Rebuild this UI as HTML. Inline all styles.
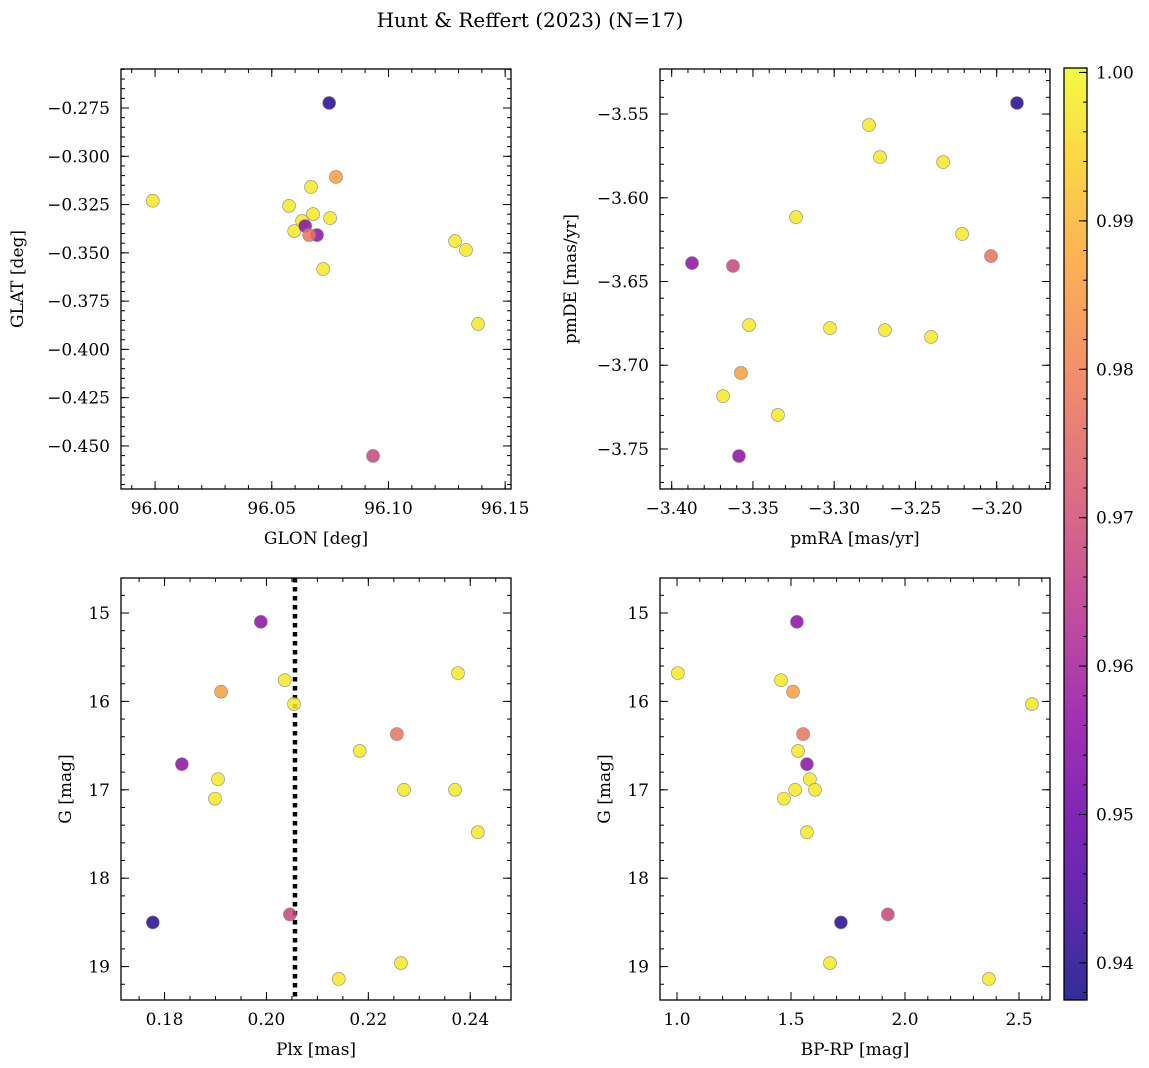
<!DOCTYPE html>
<html><head><meta charset="utf-8"><style>
html,body{margin:0;padding:0;background:#fff}
svg{display:block;font-family:"DejaVu Serif","Liberation Serif",serif}
</style></head><body>
<svg id="fig" width="1149" height="1068" viewBox="0 0 1149 1068" xmlns="http://www.w3.org/2000/svg">
<text x="530" y="27" font-size="20" text-anchor="middle">Hunt &amp; Reffert (2023) (N=17)</text>
</svg>
<script>
// Panel 1: GLON / GLAT
const glon = [95.999,96.0746,96.0775,96.0668,96.0574,96.0677,96.075,96.063,96.0596,96.0643,96.0694,96.066,96.072,96.1285,96.1332,96.1384,96.0934];
const glat = [-0.323,-0.2724,-0.3107,-0.3159,-0.3257,-0.3299,-0.332,-0.3335,-0.3387,-0.3361,-0.3408,-0.3408,-0.3584,-0.3439,-0.3485,-0.3868,-0.4552];
const prob1 = [0.998,0.940,0.986,0.998,0.998,0.998,0.998,0.998,0.998,0.956,0.956,0.978,0.998,0.998,0.998,0.998,0.968];
// Panel 2: pmRA / pmDE
const pmra = [-3.1875,-3.2786,-3.2718,-3.233,-3.3235,-3.2213,-3.2035,-3.3875,-3.3623,-3.3524,-3.3026,-3.2688,-3.2404,-3.3574,-3.3684,-3.3346,-3.3586];
const pmde = [-3.5434,-3.5566,-3.5757,-3.5787,-3.6116,-3.6216,-3.6348,-3.639,-3.6407,-3.676,-3.6778,-3.679,-3.6831,-3.7046,-3.7184,-3.7297,-3.7542];
const prob2 = [0.940,0.998,0.998,0.998,0.998,0.998,0.978,0.956,0.968,0.998,0.998,0.998,0.998,0.986,0.998,0.998,0.956];
// Panel 3: Plx / G
const plx = [0.1989,0.2376,0.1911,0.2036,0.2054,0.2256,0.2183,0.1834,0.1905,0.227,0.237,0.1899,0.2415,0.1777,0.2046,0.2264,0.2142];
const gmag3 = [15.10,15.68,15.89,15.76,16.03,16.37,16.56,16.71,16.88,17.00,17.00,17.10,17.48,18.50,18.41,18.96,19.14];
const prob3 = [0.956,0.998,0.986,0.998,0.998,0.978,0.998,0.956,0.998,0.998,0.998,0.998,0.998,0.940,0.968,0.998,0.998];
const plxLine = [0.2056];
// Panel 4: BP-RP / G
const bprp = [1.526,1.004,1.456,1.509,1.553,1.531,1.570,1.583,1.605,1.518,1.469,1.570,2.557,1.719,1.925,1.671,2.368];
const gmag4 = [15.10,15.68,15.76,15.89,16.37,16.56,16.71,16.88,17.00,17.00,17.10,17.48,16.03,18.50,18.41,18.96,19.14];
const prob4 = [0.956,0.998,0.998,0.986,0.978,0.998,0.956,0.998,0.998,0.998,0.998,0.998,0.998,0.940,0.968,0.998,0.998];
// Tick labels
const ticks1x = [96.00,96.05,96.10,96.15];
const ticks1y = [-0.275,-0.300,-0.325,-0.350,-0.375,-0.400,-0.425,-0.450];
const ticks2x = [-3.40,-3.35,-3.30,-3.25,-3.20];
const ticks2y = [-3.55,-3.60,-3.65,-3.70,-3.75];
const ticks3x = [0.18,0.20,0.22,0.24];
const ticksG = [15,16,17,18,19];
const ticks4x = [1.0,1.5,2.0,2.5];
const cbTicks = [0.94,0.95,0.96,0.97,0.98,0.99,1.00];
const cbMin = 0.9375, cbMax = 1.0003;

const NS = "http://www.w3.org/2000/svg";
const svg = document.getElementById('fig');
function mk(tag, attrs, parent){
  const e = document.createElementNS(NS, tag);
  for (const k in attrs) e.setAttribute(k, attrs[k]);
  (parent||svg).appendChild(e);
  return e;
}
const stops = [[13,8,135],[65,4,157],[106,0,168],[143,13,164],[177,42,144],[204,71,120],[225,100,98],[242,132,75],[252,166,54],[252,206,37],[240,249,33]];
function plasma(t){
  t = Math.max(0, Math.min(1, t));
  const f = t*10, i = Math.min(9, Math.floor(f)), r = f - i;
  const a = stops[i], b = stops[i+1];
  return 'rgb(' + [0,1,2].map(k => Math.round(a[k] + (b[k]-a[k])*r)).join(',') + ')';
}
function fmt(v, d){ const s = Math.abs(v).toFixed(d); return (v < -1e-12 ? '\u2212' : '') + s; }

function panel(o){
  const {x0,x1,y0,y1,xmin,xmax,ymin,ymax,name} = o;
  const sx = v => x0 + (v - xmin)/(xmax - xmin)*(x1 - x0);
  const sy = v => y1 - (v - ymin)/(ymax - ymin)*(y1 - y0);
  const g = mk('g', {});
  
  
  const lo = Math.ceil(xmin/o.xminor - 1e-9), hi = Math.floor(xmax/o.xminor + 1e-9);
  for (let i = lo; i <= hi; i++){
    const X = sx(i*o.xminor);
    mk('line', {x1:X, x2:X, y1:y1, y2:y1-4, stroke:'#000', 'stroke-width':1}, g);
    mk('line', {x1:X, x2:X, y1:y0, y2:y0+4, stroke:'#000', 'stroke-width':1}, g);
  }
  const lo2 = Math.ceil(Math.min(ymin,ymax)/o.yminor - 1e-9), hi2 = Math.floor(Math.max(ymin,ymax)/o.yminor + 1e-9);
  for (let i = lo2; i <= hi2; i++){
    const Y = sy(i*o.yminor);
    mk('line', {x1:x0, x2:x0+4, y1:Y, y2:Y, stroke:'#000', 'stroke-width':1}, g);
    mk('line', {x1:x1, x2:x1-4, y1:Y, y2:Y, stroke:'#000', 'stroke-width':1}, g);
  }
  o.xt.forEach(v => {
    const X = sx(v);
    mk('line', {x1:X, x2:X, y1:y1, y2:y1-8, stroke:'#000', 'stroke-width':1}, g);
    mk('line', {x1:X, x2:X, y1:y0, y2:y0+8, stroke:'#000', 'stroke-width':1}, g);
    const t = mk('text', {x:X, y:y1+25, 'font-size':17, 'text-anchor':'middle'}, g);
    t.textContent = fmt(v, o.xd);
    
    
  });
  o.yt.forEach(v => {
    const Y = sy(v);
    mk('line', {x1:x0, x2:x0+8, y1:Y, y2:Y, stroke:'#000', 'stroke-width':1}, g);
    mk('line', {x1:x1, x2:x1-8, y1:Y, y2:Y, stroke:'#000', 'stroke-width':1}, g);
    const t = mk('text', {x:x0-11, y:Y+6, 'font-size':17, 'text-anchor':'end'}, g);
    t.textContent = fmt(v, o.yd);
    
    
  });
  if (o.vline !== undefined){
    const X = sx(o.vline);
    const l = mk('line', {x1:X, x2:X, y1:y0, y2:y1, stroke:'#000', 'stroke-width':4.5, 'stroke-dasharray':'4.5,4.5'}, g);
    
    
  }
  o.xs.forEach((v, i) => {
    const c = mk('circle', {cx:sx(v), cy:sy(o.ys[i]), r:6.5, fill:plasma((o.ps[i]-cbMin)/(cbMax-cbMin)), 'fill-opacity':0.85, stroke:'#888', 'stroke-width':0.6}, g);
    
    
  });
  const fr = mk('rect', {x:x0, y:y0, width:x1-x0, height:y1-y0, fill:'none', stroke:'#000', 'stroke-width':1.3}, g);
  
  
  const xl = mk('text', {x:(x0+x1)/2, y:y1+55, 'font-size':17, 'text-anchor':'middle'}, g);
  xl.textContent = o.xlabel;
  
  
  const yl = mk('text', {x:0, y:0, 'font-size':17, 'text-anchor':'middle', transform:'translate(' + o.ylx + ',' + (y0+y1)/2 + ') rotate(-90)'}, g);
  yl.textContent = o.ylabel;
  
  
}

panel({name:'position', x0:121,x1:511,y0:69,y1:489, xmin:95.9854,xmax:96.1525, ymin:-0.4723,ymax:-0.2548,
  xt:ticks1x, yt:ticks1y, xd:2, yd:3, xminor:0.01, yminor:0.005, xs:glon, ys:glat, ps:prob1,
  xlabel:'GLON [deg]', ylabel:'GLAT [deg]', ylx:23});
panel({name:'proper-motion', x0:660,x1:1050,y0:69,y1:489, xmin:-3.4072,xmax:-3.1672, ymin:-3.7739,ymax:-3.5231,
  xt:ticks2x, yt:ticks2y, xd:2, yd:2, xminor:0.01, yminor:0.01, xs:pmra, ys:pmde, ps:prob2,
  xlabel:'pmRA [mas/yr]', ylabel:'pmDE [mas/yr]', ylx:576});
panel({name:'parallax-magnitude', x0:121,x1:511,y0:578,y1:1000, xmin:0.17145,xmax:0.2480, ymin:19.378,ymax:14.604,
  xt:ticks3x, yt:ticksG, xd:2, yd:0, xminor:0.005, yminor:0.2, xs:plx, ys:gmag3, ps:prob3, vline:plxLine[0],
  xlabel:'Plx [mas]', ylabel:'G [mag]', ylx:71});
panel({name:'color-magnitude', x0:660,x1:1050,y0:578,y1:1000, xmin:0.9254,xmax:2.636, ymin:19.378,ymax:14.604,
  xt:ticks4x, yt:ticksG, xd:1, yd:0, xminor:0.1, yminor:0.2, xs:bprp, ys:gmag4, ps:prob4,
  xlabel:'BP-RP [mag]', ylabel:'G [mag]', ylx:610});

// Colorbar
(function(){
  const cx0 = 1064, cx1 = 1087, cy0 = 68, cy1 = 1000;
  const g = mk('g', {});
  
  
  const defs = mk('defs', {}, g);
  const lg = mk('linearGradient', {id:'cbg', x1:0, y1:1, x2:0, y2:0}, defs);
  for (let i = 0; i <= 20; i++){
    mk('stop', {offset:(i/20), 'stop-color':plasma(i/20), 'stop-opacity':0.85}, lg);
  }
  mk('rect', {x:cx0, y:cy0, width:cx1-cx0, height:cy1-cy0, fill:'url(#cbg)'}, g);
  const sy = v => cy1 - (v - cbMin)/(cbMax - cbMin)*(cy1 - cy0);
  for (let v = 0.938; v <= 1.0001; v += 0.002){
    const Y = sy(v);
    mk('line', {x1:cx1, x2:cx1-4, y1:Y, y2:Y, stroke:'#000', 'stroke-width':1}, g);
  }
  cbTicks.forEach(v => {
    const Y = sy(v);
    mk('line', {x1:cx1, x2:cx1-8, y1:Y, y2:Y, stroke:'#000', 'stroke-width':1}, g);
    const t = mk('text', {x:cx1+9, y:Y+6, 'font-size':17}, g);
    t.textContent = v.toFixed(2);
    
    
  });
  mk('rect', {x:cx0, y:cy0, width:cx1-cx0, height:cy1-cy0, fill:'none', stroke:'#000', 'stroke-width':1.3}, g);
})();
</script>
</body></html>
